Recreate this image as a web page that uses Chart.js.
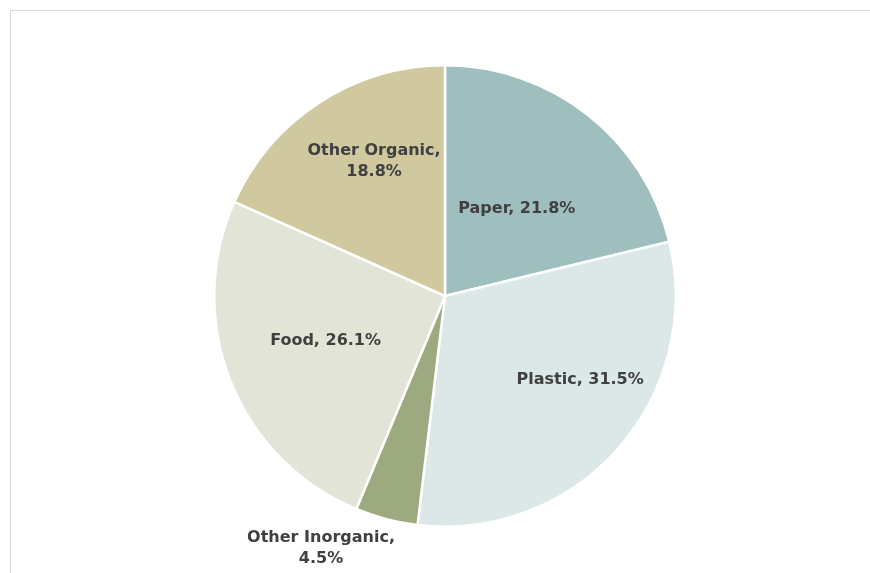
<!DOCTYPE html>
<html>
<head>
<meta charset="utf-8">
<script src="https://cdn.jsdelivr.net/npm/chart.js@4"></script>
<style>
  html, body { margin: 0; padding: 0; background: #ffffff; }
  #frame { position: absolute; left: 10px; top: 10px; width: 880px; height: 600px; border: 1px solid #d9d9d9; box-sizing: border-box; }
  #wrap { position: absolute; left: 0; top: 0; width: 870px; height: 573px; }
</style>
</head>
<body>
<div id="frame"></div>
<div id="wrap"><canvas id="c" width="870" height="573"></canvas></div>
<script>
const categories = ["Paper", "Plastic", "Other Inorganic", "Food", "Other Organic"];
const values = [21.8, 31.5, 4.5, 26.1, 18.8];
const labelLines = [["Paper, 21.8%"], ["Plastic, 31.5%"], ["Other Inorganic,", "4.5%"], ["Food, 26.1%"], ["Other Organic,", "18.8%"]];
const colors = ["#9fbfbe", "#dce7e7", "#9daa7f", "#e3e4d8", "#d0c9a0"];

// label placement relative to each arc: radial fraction and angular shift (degrees)
const labelRadial = [0.49, 0.69, 1.22, 0.553, 0.66];
const labelShift = [1.2, -9.7, 11.4, 1.0, 5.2];

const labelPlugin = {
  id: 'sliceLabels',
  afterDatasetsDraw(chart) {
    const ctx = chart.ctx;
    const meta = chart.getDatasetMeta(0);
    ctx.save();
    ctx.font = 'bold 16px "DejaVu Sans", sans-serif';
    ctx.fillStyle = '#404040';
    ctx.textAlign = 'center';
    ctx.textBaseline = 'middle';
    meta.data.forEach((arc, i) => {
      const p = arc.getProps(['x', 'y', 'startAngle', 'endAngle', 'outerRadius'], true);
      const mid = (p.startAngle + p.endAngle) / 2 + labelShift[i] * Math.PI / 180;
      const r = p.outerRadius * labelRadial[i];
      const cx = p.x + Math.cos(mid) * r;
      const cy = p.y + Math.sin(mid) * r;
      const lines = labelLines[i];
      const lh = 21;
      lines.forEach((t, k) => {
        ctx.fillText(t, cx, cy + (k - (lines.length - 1) / 2) * lh);
      });
    });
    ctx.restore();
  }
};

new Chart(document.getElementById('c'), {
  type: 'pie',
  data: {
    labels: categories,
    datasets: [{
      data: values,
      backgroundColor: colors,
      borderColor: '#ffffff',
      borderWidth: 2.5
    }]
  },
  options: {
    responsive: false,
    animation: false,
    layout: { padding: { top: 64, bottom: 45, left: 20, right: 0 } },
    plugins: {
      legend: { display: false },
      tooltip: { enabled: false }
    }
  },
  plugins: [labelPlugin]
});
</script>
</body>
</html>
